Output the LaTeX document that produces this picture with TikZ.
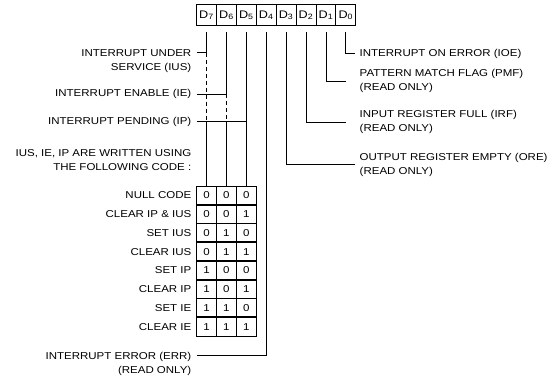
\documentclass[tikz,border=0pt]{standalone}
\usepackage{fontspec}
\setmainfont{Liberation Sans}[FakeStretch=1.15]
\usetikzlibrary{positioning}

\begin{document}
\begin{tikzpicture}[
    x=1pt, y=-1pt,
    font=\fontsize{10}{14}\selectfont,
    bitcell/.style={
        rectangle,
        draw,
        line width=0.8pt,
        minimum width=19.9pt,
        minimum height=21pt,
        inner sep=0pt,
        outer sep=0pt,
        font=\fontsize{11}{13}\selectfont
    },
    codecell/.style={bitcell, minimum height=18.75pt, font=\fontsize{10}{12}\selectfont},
    lefttext/.style ={anchor=east, align=right, inner sep=0pt},
    righttext/.style={anchor=west, align=left, inner sep=0pt},
    wire/.style={line width=0.8pt},
    dashwire/.style={wire, dash pattern=on 4pt off 3pt}
]
\useasboundingbox (0,0) rectangle (553,383);

% status register
\node[bitcell] (d7) at (206.5,15.25) {D\textsubscript{7}};
\node[bitcell, right=0pt of d7] (d6) {D\textsubscript{6}};
\node[bitcell, right=0pt of d6] (d5) {D\textsubscript{5}};
\node[bitcell, right=0pt of d5] (d4) {D\textsubscript{4}};
\node[bitcell, right=0pt of d4] (d3) {D\textsubscript{3}};
\node[bitcell, right=0pt of d3] (d2) {D\textsubscript{2}};
\node[bitcell, right=0pt of d2] (d1) {D\textsubscript{1}};
\node[bitcell, right=0pt of d1] (d0) {D\textsubscript{0}};

% right hand labels
\node[righttext] (ioe) at (359.5,53.5) {INTERRUPT ON ERROR (IOE)};
\node[righttext] (pmf) at (359.5,81)   {PATTERN MATCH FLAG (PMF)\\(READ ONLY)};
\node[righttext] (irf) at (359.5,122)  {INPUT REGISTER FULL (IRF)\\(READ ONLY)};
\node[righttext] (ore) at (359.5,164.5){OUTPUT REGISTER EMPTY (ORE)\\(READ ONLY)};

% left hand labels
\node[lefttext, anchor=north east] (ius) at (191.5,49.1) {INTERRUPT UNDER\\SERVICE (IUS)};
\node[lefttext] (ie) at (191.5,94)    {INTERRUPT ENABLE (IE)};
\node[lefttext] (ip) at (191.5,121.7) {INTERRUPT PENDING (IP)};
\node[lefttext, anchor=north east] (note) at (191.5,149.1)
    {IUS, IE, IP ARE WRITTEN USING\\THE FOLLOWING CODE :};
\node[lefttext, anchor=north east] (err) at (191.5,351.9) {INTERRUPT ERROR (ERR)\\(READ ONLY)};

% code table
\foreach \lbl/\a/\b/\c [count=\r] in {NULL CODE/0/0/0, CLEAR IP \& IUS/0/0/1,
    SET IUS/0/1/0, CLEAR IUS/0/1/1, SET IP/1/0/0, CLEAR IP/1/0/1,
    SET IE/1/1/0, CLEAR IE/1/1/1} {
    \node[codecell] (c\r a) at (206.5,176.625+18.75*\r) {\a};
    \node[codecell, right=0pt of c\r a] (c\r b) {\b};
    \node[codecell, right=0pt of c\r b] (c\r c) {\c};
    \node[lefttext] (code\r) at (191.5,176.625+18.75*\r) {\lbl};
}
\foreach \r in {1,...,7}
    \draw[line width=1.6pt] (c\r a.south west) -- (c\r c.south east);

\coordinate (iusline) at ([yshift=-3.6pt]ius.north east);
\coordinate (errline) at ([yshift=-3.8pt]err.north east);

% D7, D6, D5
\draw[wire] ([yshift=-6pt]d7.south) -- (iusline -| d7);
\draw[dashwire] (iusline -| d7) -- (ip -| d7);
\draw[wire] (ip -| d7) -- (c1a.north);
\draw[wire] ([xshift=5.5pt]iusline) -- (iusline -| d7);

\draw[wire] ([yshift=-6pt]d6.south) -- (ie -| d6);
\draw[dashwire] (ie -| d6) -- (ip -| d6);
\draw[wire] (ip -| d6) -- (c1b.north);
\draw[wire] ([xshift=5.5pt]ie.east) -- (ie -| d6);

\draw[wire] ([yshift=-6pt]d5.south) -- (c1c.north);
\draw[wire] ([xshift=5.5pt]ip.east) -- (ip -| d5);

% D4 .. D0
\draw[wire] ([yshift=-6pt]d4.south) |- ([xshift=5.5pt]errline);
\draw[wire] ([yshift=-6pt]d3.south) |- ([xshift=-4.5pt]ore.west);
\draw[wire] ([yshift=-6pt]d2.south) |- (irf -| d0);
\draw[wire] ([yshift=-6pt]d1.south) |- (pmf -| d0);
\draw[wire] ([yshift=-6pt]d0.south) |- ([xshift=-4.5pt]ioe.west);
\end{tikzpicture}
\end{document}
